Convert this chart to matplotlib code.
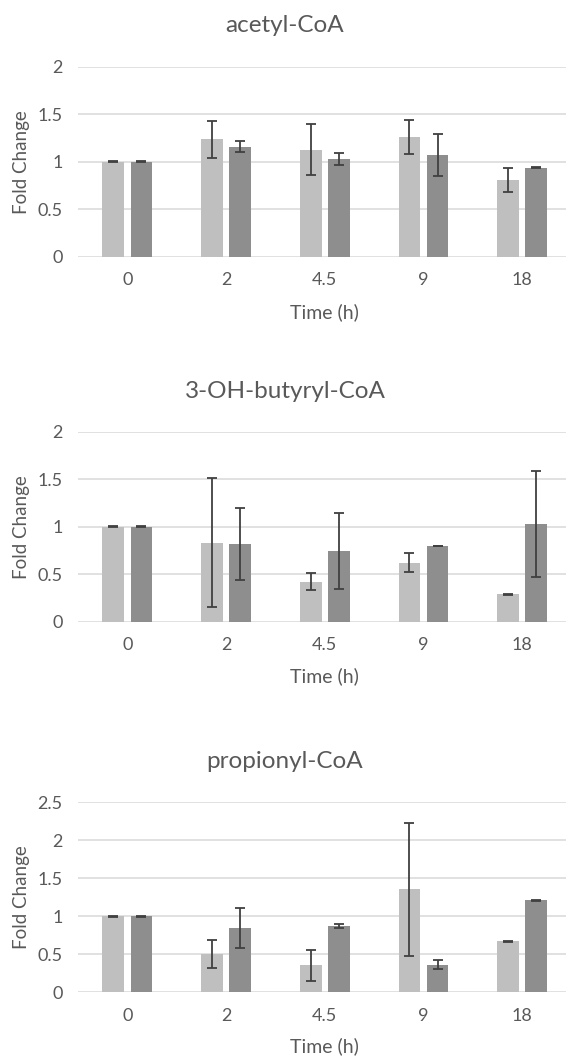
import matplotlib
matplotlib.use("Agg")
import matplotlib.pyplot as plt
import numpy as np

plt.rcParams['font.family'] = ['Lato', 'DejaVu Sans']

times = ["0", "2", "4.5", "9", "18"]

titles = ["acetyl-CoA", "3-OH-butyryl-CoA", "propionyl-CoA"]

# light / dark series for each panel
acetyl_light = [1.0, 1.235, 1.126, 1.256, 0.81]
acetyl_light_err = [0.005, 0.195, 0.27, 0.18, 0.126]
acetyl_dark = [1.0, 1.158, 1.03, 1.074, 0.937]
acetyl_dark_err = [0.005, 0.06, 0.065, 0.22, 0.005]

butyryl_light = [1.0, 0.832, 0.423, 0.622, 0.287]
butyryl_light_err = [0.005, 0.68, 0.09, 0.10, 0.005]
butyryl_dark = [1.0, 0.822, 0.748, 0.797, 1.031]
butyryl_dark_err = [0.005, 0.38, 0.40, 0.005, 0.56]

propionyl_light = [1.0, 0.50, 0.356, 1.353, 0.672]
propionyl_light_err = [0.005, 0.185, 0.205, 0.88, 0.005]
propionyl_dark = [1.0, 0.843, 0.87, 0.365, 1.208]
propionyl_dark_err = [0.005, 0.26, 0.025, 0.06, 0.005]

panels = [
    (acetyl_light, acetyl_light_err, acetyl_dark, acetyl_dark_err, 2.0),
    (butyryl_light, butyryl_light_err, butyryl_dark, butyryl_dark_err, 2.0),
    (propionyl_light, propionyl_light_err, propionyl_dark, propionyl_dark_err, 2.5),
]

W, H = 566, 1057
fig = plt.figure(figsize=(W / 100, H / 100), dpi=100)

text_col = "#595959"
grid_col = "#D9D9D9"
light_col = "#BFBFBF"
dark_col = "#8E8E8E"
err_col = "#404040"

ax_left = 78
ax_right = 571.6
ax_h = 190
bottoms = [256.7, 621.7, 992.3]
title_y = [25, 391.7, 761.7]
xlabel_y = [312, 676.7, 1046.7]

x = np.arange(len(times))
bw = 0.22
off = 0.143

for k, (l, le, d, de, ymax) in enumerate(panels):
    ax = fig.add_axes([ax_left / W, 1 - bottoms[k] / H, (ax_right - ax_left) / W, ax_h / H])
    ax.bar(x - off, l, bw, color=light_col, zorder=2)
    ax.bar(x + off, d, bw, color=dark_col, zorder=2)
    ax.errorbar(x - off, l, yerr=le, fmt='none', ecolor=err_col, elinewidth=1.3,
                capsize=3.3, capthick=1.3, zorder=3)
    ax.errorbar(x + off, d, yerr=de, fmt='none', ecolor=err_col, elinewidth=1.3,
                capsize=3.3, capthick=1.3, zorder=3)
    ax.set_xlim(-0.5, len(times) - 0.5)
    ax.set_ylim(0, ymax)
    yt = np.arange(0, ymax + 0.01, 0.5)
    ax.set_yticks(yt)
    ax.set_yticklabels([f"{v:g}" for v in yt])
    ax.set_xticks(x)
    ax.set_xticklabels(times)
    ax.grid(axis='y', color=grid_col, linewidth=1.1, zorder=0)
    ax.set_axisbelow(True)
    for s in ax.spines.values():
        s.set_visible(False)
    ax.tick_params(axis='both', length=0, labelsize=13, colors=text_col)
    ax.tick_params(axis='y', pad=11)
    ax.tick_params(axis='x', pad=11)
    ax.set_ylabel("Fold Change", fontsize=13.5, color=text_col)
    ax.yaxis.set_label_coords(-(ax_left - 30) / (ax_right - ax_left), 0.5)
    fig.text(324.8 / W, 1 - xlabel_y[k] / H, "Time (h)", ha='center', va='center',
             fontsize=14, color=text_col)
    fig.text(285 / W, 1 - title_y[k] / H, titles[k], ha='center', va='center',
             fontsize=17.5, color=text_col)

fig.savefig("out.png", dpi=100)
